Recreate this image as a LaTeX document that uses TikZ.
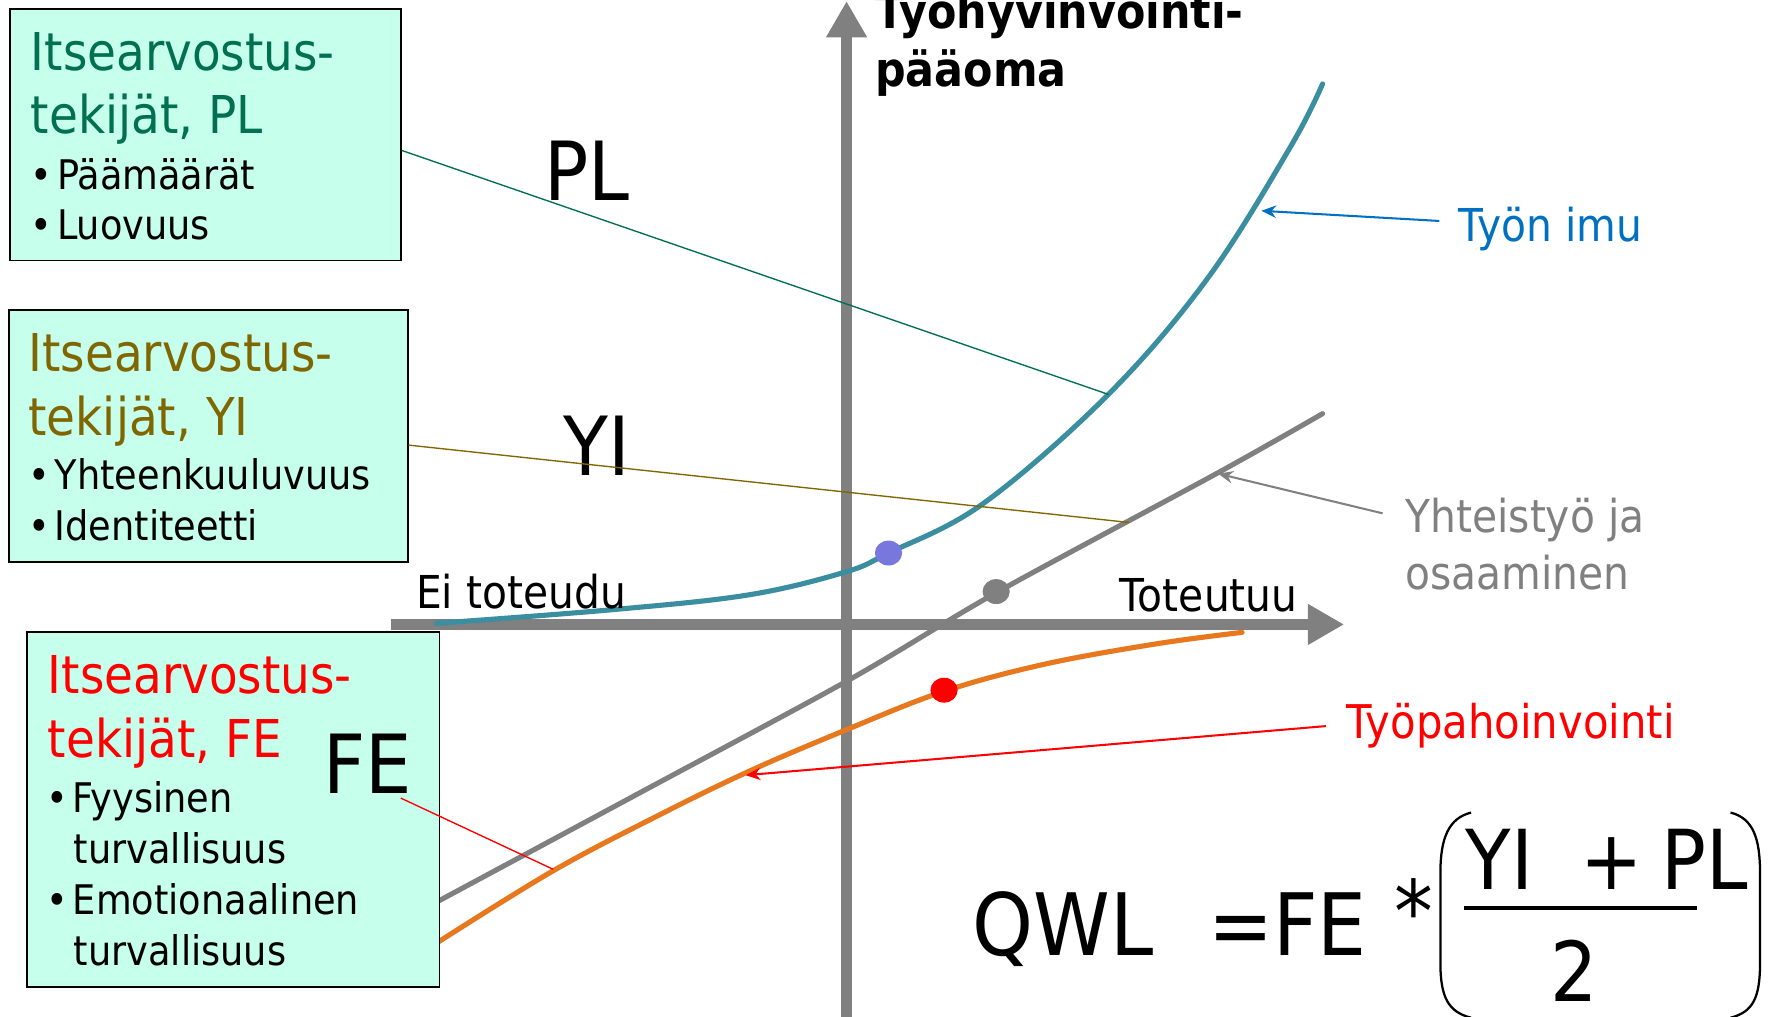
\documentclass[tikz,border=0pt]{standalone}
\usepackage{fontspec}
\setmainfont{DejaVu Sans}[FakeStretch=0.9]
\usetikzlibrary{arrows.meta,shapes.geometric}
\definecolor{boxfill}{RGB}{198,255,236}
\definecolor{plgreen}{RGB}{0,112,80}
\definecolor{yiolive}{RGB}{128,102,0}
\definecolor{axisgray}{RGB}{128,128,128}
\definecolor{tealc}{RGB}{58,142,160}
\definecolor{orangec}{RGB}{232,120,30}
\definecolor{dotblue}{RGB}{119,119,221}
\definecolor{lblblue}{RGB}{0,112,192}
\begin{document}
\begin{tikzpicture}[x=1pt,y=-1pt,
  box/.style={draw=black,line width=1.5pt,fill=boxfill,anchor=north west,inner sep=0pt},
  txt/.style={anchor=base west,inner sep=0pt},
  title/.style={txt,font=\fontsize{46}{50}\selectfont},
  item/.style={txt,font=\fontsize{36}{40}\selectfont},
  big/.style={txt,font=\fontsize{72}{76}\selectfont},
  lbl/.style={txt,font=\fontsize{40}{44}\selectfont},
  axis/.style={draw=axisgray,line width=9pt,-{Triangle[length=32pt,width=34pt]}},
  curve/.style={line width=4.5pt,line cap=round,line join=round},
  leader/.style={line width=1.2pt},
  pointer/.style={line width=1.8pt,-{Stealth[length=13pt,width=11pt]}},
  dot/.style={ellipse,inner sep=0pt,minimum width=24pt,minimum height=22pt},
  formula/.style={txt,font=\fontsize{76}{80}\selectfont},
  fnum/.style={txt,font=\fontsize{73}{76}\selectfont},
]
\useasboundingbox (0,0) rectangle (1568,897);

% axes
\coordinate (xs) at (345,551);
\coordinate (xe) at (1186,551);
\coordinate (ys) at (747,905);
\coordinate (ye) at (747,1);
\draw[axis] (xs) -- (xe);
\draw[axis] (ys) -- (ye);

% curves
\draw[curve,tealc] plot[smooth,tension=0.6] coordinates {(385,550) (540,538) (660,525) (745,505) (784,488) (868,444) (978,348) (1066,245) (1139,129) (1167,74)};
\draw[curve,axisgray] plot[smooth,tension=0.5] coordinates {(387,795) (560,702) (749,600) (879,523) (1075,417) (1167,365)};
\draw[curve,orangec] plot[smooth,tension=0.6] coordinates {(387,831) (487,769) (576,722) (660,681) (749,643) (833,610) (922,586) (1021,568) (1096,558)};

% boxes
\node[box,minimum width=345pt,minimum height=222pt] (boxPL) at (8,7) {};
\node[box,minimum width=352pt,minimum height=222pt] (boxYI) at (7,273) {};
\node[box,minimum width=364pt,minimum height=313pt] (boxFE) at (23,557) {};

% PL box text
\node[title,plgreen] (plt1) at (27,62) {Itsearvostus-};
\node[title,plgreen] (plt2) at (27,118) {tekijät, PL};
\node[item] (pli1) at (27,167) {•\kern4pt Päämäärät};
\node[item] (pli2) at (27,211) {•\kern4pt Luovuus};

% YI box text
\node[title,yiolive] (yit1) at (25,328) {Itsearvostus-};
\node[title,yiolive] (yit2) at (25,384) {tekijät, YI};
\node[item] (yii1) at (25,432) {•\kern4pt Yhteenkuuluvuus};
\node[item] (yii2) at (25,477) {•\kern4pt Identiteetti};

% FE box text
\node[title,red] (fet1) at (42,612) {Itsearvostus-};
\node[title,red] (fet2) at (42,668) {tekijät, FE};
\node[item] (fei1) at (41,717) {•\kern4pt Fyysinen};
\node[item] (fei1b) at (65,762) {turvallisuus};
\node[item] (fei2) at (41,807) {•\kern4pt Emotionaalinen};
\node[item] (fei2b) at (65,852) {turvallisuus};

% big labels
\node[big] (bigPL) at (480,177) {PL};
\node[big] (bigYI) at (497,420) {YI};
\node[big] (bigFE) at (285,700) {FE};

% axis labels
\node[txt,font=\bfseries\fontsize{42}{46}\selectfont] (ylab1) at (772,25) {Työhyvinvointi-};
\node[txt,font=\bfseries\fontsize{42}{46}\selectfont] (ylab2) at (772,76) {pääoma};
\node[lbl] (eitot) at (367,537) {Ei toteudu};
\node[lbl] (totut) at (988,540) {Toteutuu};

% leader lines
\coordinate (pPL) at (978,348);
\coordinate (pYI) at (996,461);
\coordinate (pFE) at (488,767);
\draw[leader,plgreen] ([yshift=-14pt]boxPL.east) -- (pPL);
\draw[leader,yiolive] ([yshift=-8pt]boxYI.east) -- (pYI);
\draw[leader,red] ([xshift=-10pt,yshift=-4pt]bigFE.south east) -- (pFE);

% dots
\node[dot,fill=dotblue] (dPL) at (784,488) {};
\node[dot,fill=axisgray] (dYI) at (879,522) {};
\node[dot,fill=red] (dFE) at (833,609) {};

% right labels
\node[lbl,lblblue] (imu) at (1287,213) {Työn imu};
\node[lbl,axisgray] (yht1) at (1240,470) {Yhteistyö ja};
\node[lbl,axisgray] (yht2) at (1240,520) {osaaminen};
\node[lbl,red,font=\fontsize{41}{44}\selectfont] (pahoin) at (1188,652) {Työpahoinvointi};
\coordinate (tImu) at (1113,186);
\coordinate (tYht) at (1075,418);
\coordinate (tPah) at (658,684);
\draw[pointer,lblblue] ([xshift=-17pt,yshift=7pt]imu.west) -- (tImu);
\draw[pointer,axisgray] ([xshift=-20pt,yshift=6pt]yht1.west) -- (tYht);
\draw[pointer,red] ([xshift=-18pt]pahoin.west) -- (tPah);

% formula
\node[formula] (qwl) at (858,843) {QWL};
\node[formula] (eqfe) at (1066,843) {=FE};
\node[formula] (star) at (1230,832) {*};
\node[fnum] (numYI) at (1293,785) {YI};
\node[fnum] (numPlus) at (1394,785) {+};
\node[fnum] (numPL) at (1466,785) {PL};
\node[fnum] (den) at (1368,884) {2};
\coordinate (fbl) at (1292,801);
\coordinate (fbr) at (1497,801);
\draw[line width=4pt] (fbl) -- (fbr);
\draw[line width=2pt] (1298,717) .. controls (1278,722) and (1271,740) .. (1271,770) -- (1271,850) .. controls (1271,880) and (1278,893) .. (1298,898);
\draw[line width=2pt] (1527,717) .. controls (1547,722) and (1553,740) .. (1553,770) -- (1553,850) .. controls (1553,880) and (1547,893) .. (1527,898);
\end{tikzpicture}
\end{document}
